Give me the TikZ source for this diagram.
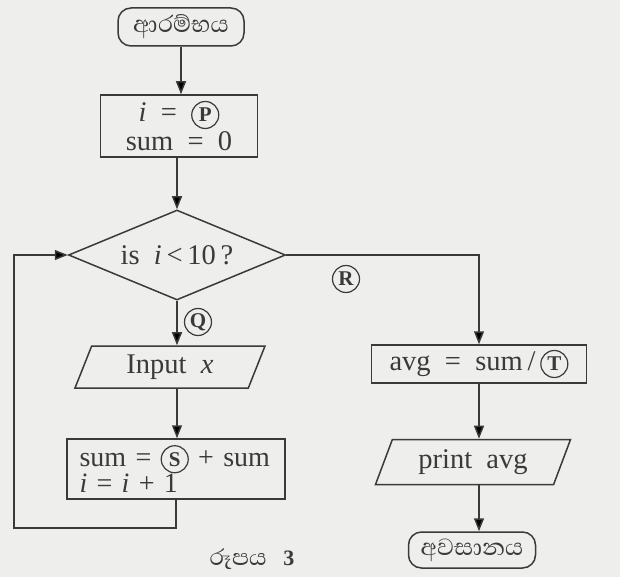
\documentclass[tikz,border=0pt]{standalone}
\usepackage{fontspec}
\setmainfont{Liberation Serif}
\newfontfamily\sinhalafont[Script=Sinhala]{Abhaya Libre}
\usetikzlibrary{shapes.geometric,arrows.meta}
\definecolor{ink}{HTML}{3A3A3A}
\definecolor{paper}{HTML}{EEEEEC}
\newcommand\cl[1]{\tikz[baseline=(cc.base)]\node[draw=ink,circle,line width=1.2pt,inner sep=0pt,minimum size=27pt,text width={},align=center,rounded corners=0pt,font=\fontsize{21}{21}\selectfont\bfseries](cc){#1};}
\tikzset{
  flow/.style={draw=ink,line width=1.5pt,text=ink,font=\fontsize{28.5}{29}\selectfont},
  term/.style={flow,rectangle,rounded corners=13pt,minimum height=38pt,inner sep=0pt,font=\sinhalafont\fontsize{30}{30}\selectfont},
  proc/.style={flow,rectangle,inner sep=0pt,align=center},
  dec/.style={flow,diamond,aspect=2.4,minimum width=217pt,minimum height=90pt,inner sep=0pt},
  io/.style={flow,trapezium,trapezium left angle=56,trapezium right angle=124,trapezium stretches body,inner sep=0pt},
  conn/.style={draw=ink,line width=1.5pt,-{Triangle[length=13pt,width=10pt]}},
  lab/.style={draw=ink,circle,line width=1.2pt,inner sep=0pt,minimum size=27pt,text=ink,font=\fontsize{21}{21}\selectfont\bfseries}
}
\begin{document}
\begin{tikzpicture}[x=1pt,y=-1pt]
\useasboundingbox (0,0) rectangle (620,577);
\fill[paper] (0,0) rectangle (620,577);
\node[term,minimum width=126pt] (start) at (181,27) {ආරම්භය};
\node[proc,minimum width=157pt,minimum height=62pt] (init) at (179,126) {\textit{i}\ \ =\ \ \cl{P}\\sum\ \ =\ \ 0};
\node[dec] (test) at (177,255) {is\ \ \textit{i}\,<\,10\,?};
\node[io,minimum width=190pt,minimum height=42pt] (inp) at (170,367) {Input\ \ \textit{x}};
\node[proc,minimum width=218pt,minimum height=60pt,text width=193pt,align=left,font=\fontsize{28}{25}\selectfont] (upd) at (176,469) {sum = \cl{S} + sum\\\textit{i} = \textit{i} + 1};
\node[proc,minimum width=215pt,minimum height=38pt] (avg) at (479,364) {avg\ \ =\ \ sum\,/\,\cl{T}};
\node[io,minimum width=195pt,minimum height=45pt] (prt) at (473,462) {print\ \ avg};
\node[term,minimum width=127pt,minimum height=36pt] (end) at (472,550) {අවසානය};
\node[lab] (Q) at (198,322) {Q};
\node[lab] (R) at (346,279) {R};
\node[text=ink,font=\fontsize{22}{24}\selectfont] (cap) at (252,559) {{\sinhalafont\fontsize{29}{30}\selectfont රූපය}\ \ \ \textbf{3}};
\coordinate (lb) at (14,528);
\draw[conn] (start.south) -- (start.south |- init.north);
\draw[conn] (test.north |- init.south) -- (test.north);
\draw[conn] (test.south) -- (test.south |- inp.north);
\draw[conn] (test.south |- inp.south) -- (test.south |- upd.north);
\draw[conn] (upd.south) |- (lb) |- (test.west);
\draw[conn] (test.east) -| (avg.north);
\draw[conn] (avg.south) -- (avg.south |- prt.north);
\draw[conn] (avg.south |- prt.south) -- (avg.south |- end.north);
\end{tikzpicture}
\end{document}
